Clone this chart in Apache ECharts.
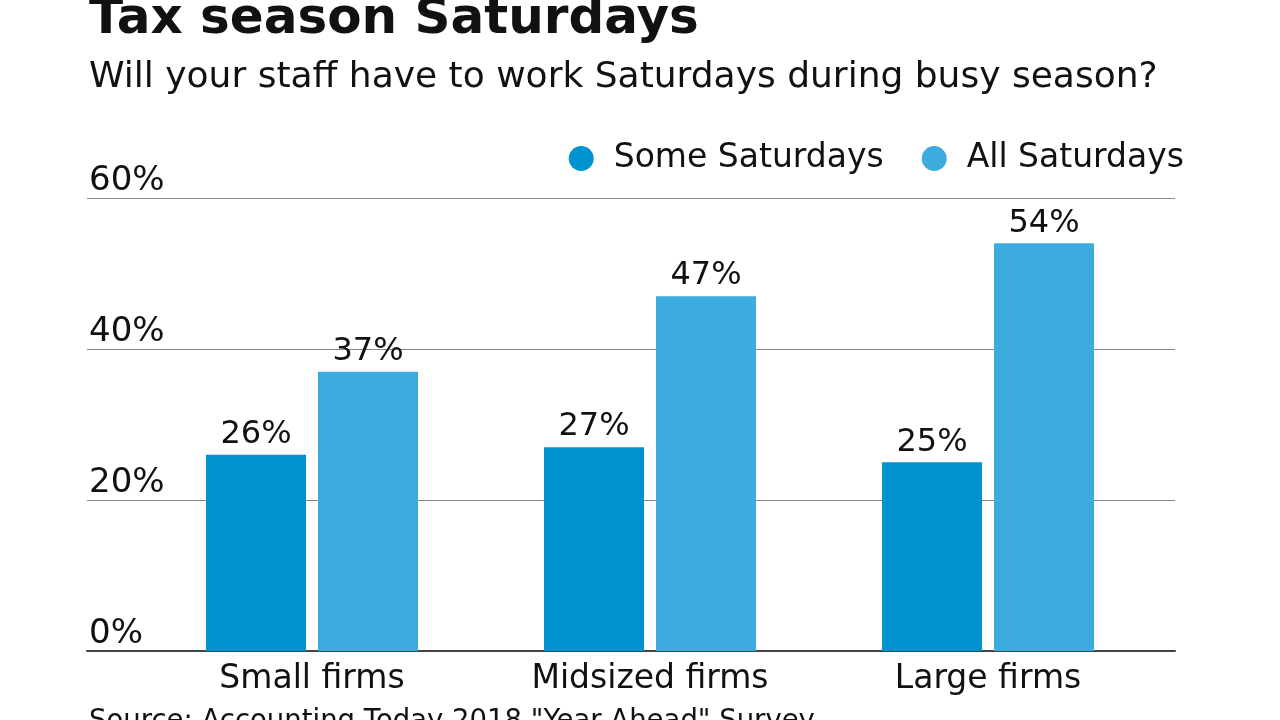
<!DOCTYPE html>
<html><head><meta charset="utf-8">
<script src="https://cdn.jsdelivr.net/npm/echarts@6/dist/echarts.min.js"></script>
<style>html,body{margin:0;padding:0;background:#fff}#c{width:1280px;height:720px}</style>
</head><body><div id="c"></div>
<script>
const categories = ['Small firms', 'Midsized firms', 'Large firms'];
const someSaturdays = [26, 27, 25];
const allSaturdays = [37, 47, 54];
const seriesNames = ['Some Saturdays', 'All Saturdays'];
const yTicks = [0, 20, 40, 60];
const titleText = 'Tax season Saturdays';
const subtitleText = 'Will your staff have to work Saturdays during busy season?';
const sourceText = 'Source: Accounting Today 2018 "Year Ahead" Survey';

const FONT = 'DejaVu Sans';
const chart = echarts.init(document.getElementById('c'));
const labelStyle = {show: true, position: 'top', distance: 4, color: '#111', fontSize: 32, fontFamily: FONT, formatter: p => p.value + '%'};
chart.setOption({
  animation: false,
  title: [
    {text: titleText, left: 84, top: -10, textStyle: {fontFamily: FONT, fontWeight: 'bold', fontSize: 50, color: '#111'}},
    {text: subtitleText, left: 84, top: 55, textStyle: {fontFamily: FONT, fontWeight: 'normal', fontSize: 36, color: '#111'}},
    {text: sourceText, left: 84, top: 703, textStyle: {fontFamily: FONT, fontWeight: 'normal', fontSize: 27.5, color: '#111'}}
  ],
  legend: {
    right: 91, top: 137, icon: 'circle', itemWidth: 25, itemHeight: 25, itemGap: 38,
    textStyle: {fontFamily: FONT, fontSize: 33, color: '#111', padding: [0, 0, 0, 15]},
    data: seriesNames
  },
  grid: [
    {left: 143, right: 123, top: 198, bottom: 69},
    {left: 87, right: 105, top: 198, bottom: 69}
  ],
  xAxis: [
    {type: 'category', gridIndex: 0, data: categories, axisLine: {show: false}, axisTick: {show: false},
     axisLabel: {fontFamily: FONT, fontSize: 33, color: '#111', margin: 12}},
    {type: 'value', gridIndex: 1, show: true, min: 0, max: 1, axisLine: {show: true, onZero: false, lineStyle: {color: '#444', width: 2}},
     axisTick: {show: false}, axisLabel: {show: false}, splitLine: {show: false}}
  ],
  yAxis: [
    {type: 'value', gridIndex: 0, min: 0, max: 60, interval: 20, show: false, splitLine: {show: false}},
    {type: 'value', gridIndex: 1, min: 0, max: 60, interval: 20, axisLine: {show: false}, axisTick: {show: false},
     splitLine: {show: true, lineStyle: {color: '#888', width: 1}},
     axisLabel: {inside: true, verticalAlign: 'bottom', margin: 2, padding: [0, 0, 0, 0], fontFamily: FONT, fontSize: 34, color: '#111',
       formatter: v => yTicks.includes(v) ? v + '%' : ''}}
  ],
  series: [
    {name: seriesNames[0], type: 'bar', xAxisIndex: 0, yAxisIndex: 0, data: someSaturdays, barWidth: 100, barGap: '12%',
     itemStyle: {color: '#0093d0'}, label: labelStyle},
    {name: seriesNames[1], type: 'bar', xAxisIndex: 0, yAxisIndex: 0, data: allSaturdays, barWidth: 100, barGap: '12%',
     itemStyle: {color: '#3cabdd'}, label: labelStyle}
  ]
});
</script></body></html>
